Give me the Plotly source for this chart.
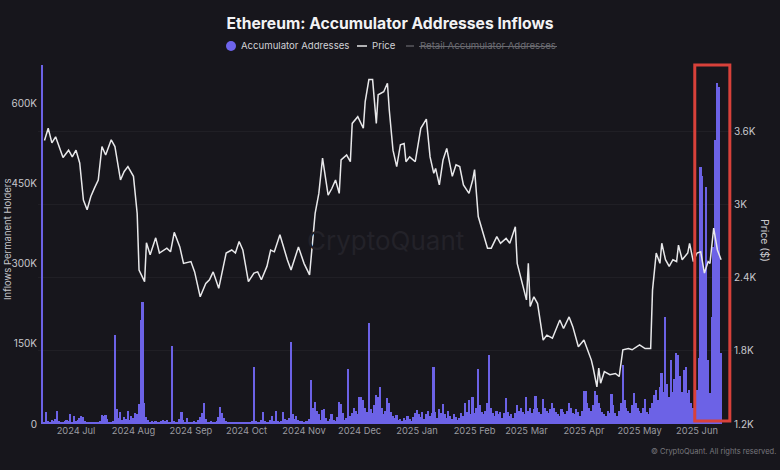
import pandas as pd
import plotly.graph_objects as go

# ---------------- data ----------------
PRICE_DATES = [
    "2024-06-14", "2024-06-16", "2024-06-18", "2024-06-20", "2024-06-24", "2024-06-27", "2024-06-29",
    "2024-07-01", "2024-07-03", "2024-07-05", "2024-07-07", "2024-07-09", "2024-07-11", "2024-07-13",
    "2024-07-15", "2024-07-17", "2024-07-20", "2024-07-22", "2024-07-25", "2024-07-27", "2024-07-29",
    "2024-08-01", "2024-08-03", "2024-08-04", "2024-08-07", "2024-08-08", "2024-08-10", "2024-08-13",
    "2024-08-15", "2024-08-19", "2024-08-21", "2024-08-23", "2024-08-26", "2024-08-28", "2024-09-01",
    "2024-09-03", "2024-09-06", "2024-09-09", "2024-09-11", "2024-09-13", "2024-09-16", "2024-09-20",
    "2024-09-23", "2024-09-25", "2024-09-27", "2024-09-29", "2024-10-02", "2024-10-05", "2024-10-07",
    "2024-10-09", "2024-10-12", "2024-10-14", "2024-10-16", "2024-10-19", "2024-10-23", "2024-10-25",
    "2024-10-29", "2024-11-01", "2024-11-04", "2024-11-07", "2024-11-09", "2024-11-11", "2024-11-14",
    "2024-11-16", "2024-11-18", "2024-11-20", "2024-11-21", "2024-11-24", "2024-11-26", "2024-11-27",
    "2024-11-30", "2024-12-03", "2024-12-04", "2024-12-06", "2024-12-08", "2024-12-10", "2024-12-11",
    "2024-12-14", "2024-12-16", "2024-12-17", "2024-12-19", "2024-12-21", "2024-12-23", "2024-12-25",
    "2024-12-26", "2024-12-28", "2024-12-31", "2025-01-03", "2025-01-06", "2025-01-08", "2025-01-10",
    "2025-01-11", "2025-01-13", "2025-01-15", "2025-01-17", "2025-01-18", "2025-01-20", "2025-01-22",
    "2025-01-24", "2025-01-26", "2025-01-29", "2025-01-31", "2025-02-01", "2025-02-03", "2025-02-05",
    "2025-02-08", "2025-02-10", "2025-02-13", "2025-02-15", "2025-02-18", "2025-02-20", "2025-02-23",
    "2025-02-24", "2025-02-27", "2025-03-01", "2025-03-02", "2025-03-03", "2025-03-05", "2025-03-07",
    "2025-03-10", "2025-03-12", "2025-03-15", "2025-03-17", "2025-03-19", "2025-03-21", "2025-03-24",
    "2025-03-26", "2025-03-29", "2025-04-01", "2025-04-03", "2025-04-05", "2025-04-06", "2025-04-08",
    "2025-04-09", "2025-04-10", "2025-04-12", "2025-04-15", "2025-04-18", "2025-04-20", "2025-04-22",
    "2025-04-25", "2025-04-27", "2025-05-01", "2025-05-04", "2025-05-07", "2025-05-08", "2025-05-10",
    "2025-05-12", "2025-05-13", "2025-05-15", "2025-05-17", "2025-05-19", "2025-05-21", "2025-05-22",
    "2025-05-24", "2025-05-27", "2025-05-28", "2025-05-30", "2025-06-01", "2025-06-03", "2025-06-05",
    "2025-06-07", "2025-06-08", "2025-06-10", "2025-06-12", "2025-06-14",
]
PRICE_VALUES = [
    3530, 3630, 3510, 3560, 3390, 3450, 3395,
    3450, 3345, 3040, 2960, 3070, 3140, 3205,
    3480, 3410, 3535, 3480, 3205, 3275, 3315,
    3235, 2930, 2465, 2370, 2690, 2590, 2730,
    2605, 2645, 2615, 2775, 2655, 2520, 2535,
    2450, 2245, 2355, 2385, 2450, 2315, 2605,
    2630, 2605, 2700, 2630, 2370, 2440, 2450,
    2385, 2495, 2630, 2615, 2755, 2550, 2465,
    2655, 2520, 2425, 2930, 3095, 3385, 3080,
    3135, 3205, 3095, 3370, 3410, 3355, 3670,
    3725, 3630, 3850, 4030, 4030, 3670, 3905,
    3930, 4000, 3780, 3450, 3315, 3495, 3505,
    3355, 3395, 3355, 3630, 3705, 3395, 3260,
    3300, 3165, 3370, 3465, 3395, 3235, 3330,
    3315, 3165, 3095, 3205, 3290, 2905, 2795,
    2645, 2645, 2740, 2685, 2725, 2685, 2820,
    2520, 2330, 2220, 2520, 2165, 2245, 2190,
    1890, 1930, 1905, 1975, 2055, 1985, 2080,
    2000, 1835, 1890, 1810, 1725, 1660, 1505,
    1660, 1535, 1630, 1605, 1615, 1590, 1810,
    1820, 1810, 1850, 1820, 1820, 2300, 2605,
    2520, 2685, 2550, 2495, 2550, 2535, 2670,
    2550, 2605, 2685, 2535, 2605, 2615, 2440,
    2535, 2520, 2810, 2630, 2550,
]

# Accumulator address inflows (thousands of ETH), one value per day from INFLOW_START
INFLOW_START = "2024-06-13"
INFLOW_JUN24 = [675, 4, 23, 6, 3, 8, 5, 10, 25, 6, 4, 3, 5, 8, 6, 19, 4, 15]
INFLOW_JUL24 = [6, 8, 12, 15, 14, 5, 3, 2, 3, 2, 3, 2, 4, 6, 17, 15, 17, 10, 4, 3, 6, 167, 28, 12, 22, 8, 14, 10, 25, 8, 15]
INFLOW_AUG24 = [12, 20, 18, 38, 195, 229, 40, 14, 8, 4, 5, 3, 6, 4, 3, 5, 8, 6, 8, 4, 3, 146, 6, 3, 4, 10, 23, 8, 4, 12, 4]
INFLOW_SEP24 = [3, 4, 5, 3, 8, 14, 20, 39, 10, 4, 3, 5, 3, 2, 6, 14, 32, 20, 12, 6, 3, 4, 3, 2, 3, 4, 3, 2, 3, 4]
INFLOW_OCT24 = [3, 4, 2, 6, 107, 5, 3, 4, 8, 22, 6, 4, 3, 8, 15, 6, 24, 5, 3, 6, 22, 10, 8, 12, 154, 18, 10, 15, 8, 6, 5]
INFLOW_NOV24 = [4, 6, 5, 10, 82, 30, 42, 25, 18, 8, 26, 28, 12, 6, 10, 18, 8, 6, 14, 42, 38, 20, 8, 12, 103, 15, 20, 30, 25, 18]
INFLOW_DEC24 = [50, 51, 45, 30, 22, 189, 28, 20, 35, 54, 51, 70, 30, 18, 25, 48, 40, 22, 15, 12, 17, 8, 10, 6, 12, 8, 15, 10, 6, 14, 20]
INFLOW_JAN25 = [26, 18, 14, 22, 10, 18, 24, 15, 20, 106, 22, 12, 28, 20, 37, 18, 12, 25, 15, 10, 18, 14, 8, 12, 20, 15, 39, 22, 45, 18, 51]
INFLOW_FEB25 = [20, 30, 103, 35, 22, 18, 25, 40, 129, 30, 20, 15, 25, 18, 22, 12, 20, 48, 23, 15, 18, 12, 20, 36, 25, 30, 22, 18]
INFLOW_MAR25 = [51, 25, 30, 20, 28, 52, 30, 22, 18, 47, 30, 25, 20, 28, 39, 30, 22, 18, 15, 29, 22, 18, 25, 39, 30, 20, 18, 29, 22, 15, 25]
INFLOW_APR25 = [61, 61, 40, 30, 25, 35, 61, 55, 40, 30, 22, 18, 15, 25, 20, 56, 35, 20, 15, 25, 40, 110, 45, 30, 25, 20, 35, 58, 40, 30]
INFLOW_MAY25 = [25, 20, 30, 47, 22, 18, 30, 40, 55, 63, 45, 70, 95, 60, 201, 75, 50, 120, 60, 85, 133, 130, 90, 60, 101, 107, 58, 64, 40, 30, 45]
INFLOW_JUN25 = [64, 124, 482, 464, 289, 445, 120, 58, 200, 332, 532, 639, 632, 133]

HIGHLIGHT_START = "2025-05-30 19:00"
HIGHLIGHT_END = "2025-06-18 17:00"

inflow_k = (INFLOW_JUN24 + INFLOW_JUL24 + INFLOW_AUG24 + INFLOW_SEP24 + INFLOW_OCT24 + INFLOW_NOV24
            + INFLOW_DEC24 + INFLOW_JAN25 + INFLOW_FEB25 + INFLOW_MAR25 + INFLOW_APR25 + INFLOW_MAY25
            + INFLOW_JUN25)
inflow_dates = pd.date_range(INFLOW_START, periods=len(inflow_k), freq="D")
inflow = [v * 1000 for v in inflow_k]

# ---------------- geometry helpers (layout only) ----------------
W, H = 780, 470
L, R, T, B = 38, 47, 65, 46
PW, PH = W - L - R, H - T - B


def px(x):
    return (x - L) / PW


def py(y):
    return (H - B - y) / PH


BG = "#17161c"
BAR = "#6c62e6"
FONT = "Inter, Roboto, Noto Sans, sans-serif"

fig = go.Figure()
fig.add_trace(go.Bar(
    x=inflow_dates, y=inflow, marker=dict(color=BAR, line=dict(width=0)),
    width=0.9 * 86400000, name="Accumulator Addresses", yaxis="y", showlegend=False,
))
fig.add_trace(go.Scatter(
    x=pd.to_datetime(PRICE_DATES), y=PRICE_VALUES, mode="lines",
    line=dict(color="#e8e8ea", width=1.5), name="Price", yaxis="y2", showlegend=False,
))

shapes = [
    dict(type="rect", xref="x", yref="paper", x0=HIGHLIGHT_START, x1=HIGHLIGHT_END,
         y0=py(421), y1=py(65), line=dict(color="#d8413a", width=3), fillcolor="rgba(0,0,0,0)", layer="above"),
    # legend glyphs
    dict(type="circle", xref="paper", yref="paper", x0=px(226), x1=px(236), y0=py(51), y1=py(41),
         fillcolor="#6e64ec", line=dict(width=0)),
    dict(type="line", xref="paper", yref="paper", x0=px(357), x1=px(367), y0=py(46), y1=py(46),
         line=dict(color="#e6e6e6", width=1.5)),
    dict(type="line", xref="paper", yref="paper", x0=px(406), x1=px(414), y0=py(46), y1=py(46),
         line=dict(color="#6a6a70", width=1.2)),
    dict(type="line", xref="paper", yref="paper", x0=px(419), x1=px(557), y0=py(46.5), y1=py(46.5),
         line=dict(color="#6a6a70", width=1)),
]

annotations = [
    dict(text="Accumulator Addresses", xref="paper", yref="paper", x=px(239), y=py(46),
         xanchor="left", yanchor="middle", showarrow=False, font=dict(size=9.6, color="#d2d2d6", family=FONT)),
    dict(text="Price", xref="paper", yref="paper", x=px(370), y=py(46),
         xanchor="left", yanchor="middle", showarrow=False, font=dict(size=9.6, color="#d2d2d6", family=FONT)),
    dict(text="Retail Accumulator Addresses", xref="paper", yref="paper", x=px(418), y=py(46),
         xanchor="left", yanchor="middle", showarrow=False, font=dict(size=9.6, color="#6a6a70", family=FONT)),
    dict(text="CryptoQuant", xref="paper", yref="paper", x=px(385), y=py(240),
         xanchor="center", yanchor="middle", showarrow=False, font=dict(size=26, color="#232229", family=FONT)),
    dict(text="© CryptoQuant. All rights reserved.", xref="paper", yref="paper", x=px(778), y=py(451),
         xanchor="right", yanchor="middle", showarrow=False, font=dict(size=7.5, color="#77777d", family=FONT)),
    dict(text="Price ($)", xref="paper", yref="paper", x=px(765), y=py(240), textangle=90,
         xanchor="center", yanchor="middle", showarrow=False, font=dict(size=10.5, color="#c8c8cc", family=FONT)),
    dict(text="Inflows Permanent Holders", xref="paper", yref="paper", x=px(7), y=py(240), textangle=-90,
         xanchor="center", yanchor="middle", showarrow=False, font=dict(size=9.5, color="#c8c8cc", family=FONT)),
]

fig.update_layout(
    width=W, height=H,
    margin=dict(l=L, r=R, t=T, b=B, autoexpand=False),
    paper_bgcolor=BG, plot_bgcolor=BG,
    bargap=0,
    title=dict(text="<b>Ethereum: Accumulator Addresses Inflows</b>", x=0.5, xanchor="center",
               y=1 - 24 / H, yanchor="middle", font=dict(size=15.7, color="#f2f2f4", family=FONT)),
    xaxis=dict(
        type="date", range=["2024-06-10 12:00", "2025-06-20 10:00"],
        tick0="2024-07-01", dtick="M1", tickformat="%Y %b",
        showgrid=False, zeroline=False, showline=False, ticks="",
        tickfont=dict(size=9.3, color="#9a9aa0", family=FONT), automargin=False,
    ),
    yaxis=dict(
        range=[0, 673000], tickvals=[0, 150000, 300000, 450000, 600000],
        ticktext=["0", "150K", "300K", "450K", "600K"],
        showgrid=False, zeroline=False, showline=False, ticks="",
        tickfont=dict(size=10, color="#c8c8cc", family=FONT), automargin=False,
    ),
    yaxis2=dict(
        overlaying="y", side="right", range=[1200, 4150],
        tickvals=[1200, 1800, 2400, 3000, 3600], ticktext=["1.2K", "1.8K", "2.4K", "3K", "3.6K"],
        showgrid=True, gridcolor="#201f25", gridwidth=1, zeroline=False, showline=False, ticks="",
        tickfont=dict(size=10, color="#c8c8cc", family=FONT), automargin=False,
    ),
    shapes=shapes, annotations=annotations,
    showlegend=False,
)

fig.write_html(
    "out.html",
    config={"displayModeBar": False},
    post_script="document.body.style.margin='0';document.body.style.background='#17161c';",
)
